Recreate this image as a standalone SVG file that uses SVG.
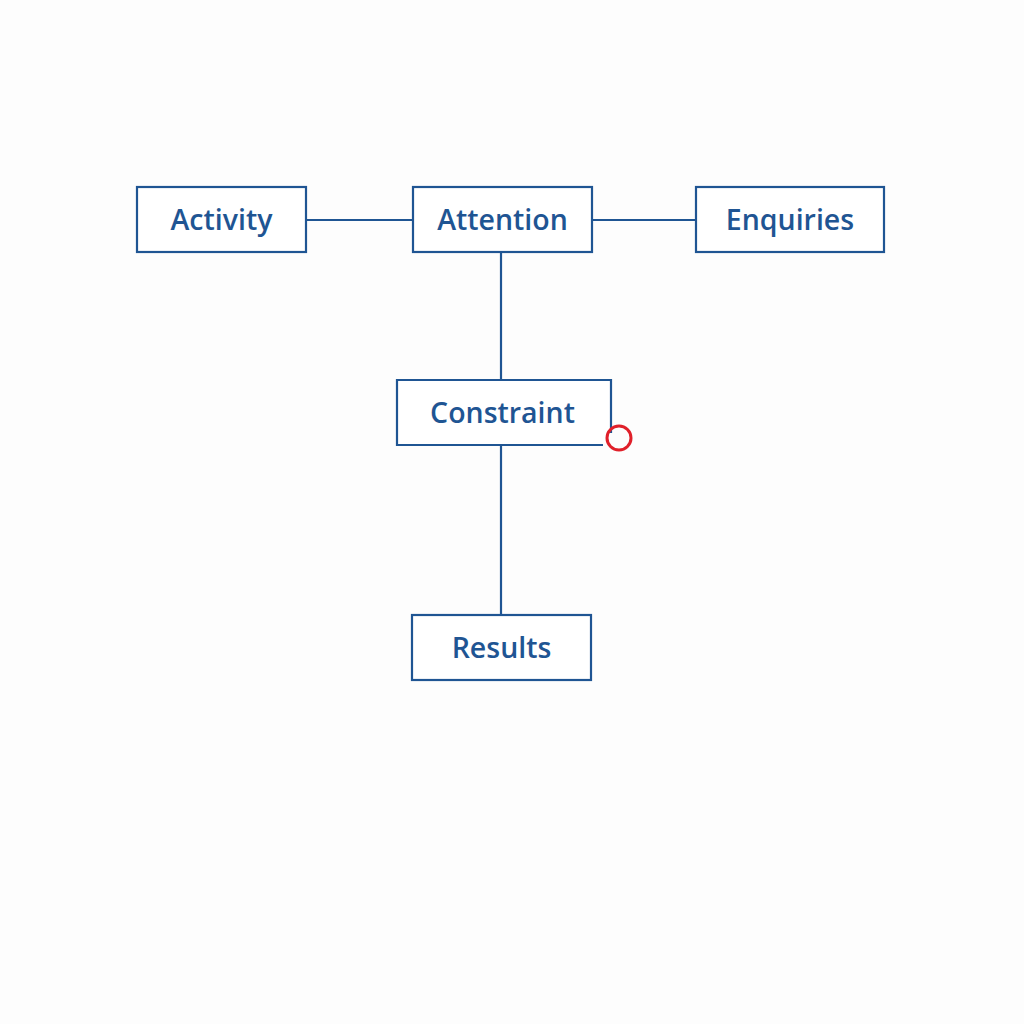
<svg xmlns="http://www.w3.org/2000/svg" width="1024" height="1024" viewBox="0 0 1024 1024">
<style>
.box{fill:#ffffff;stroke:#1f5593;stroke-width:2.2}
.lbl{font-family:"Open Sans","Noto Sans",sans-serif;font-weight:600;font-size:28.5px;fill:#1f5593;text-anchor:middle;dominant-baseline:central}
.conn{stroke:#1f5593;stroke-width:2.2;fill:none}
</style>
<rect width="1024" height="1024" fill="#fdfdfd"/>
<g id="connectors">
<line class="conn" x1="306" y1="220" x2="413" y2="220"/>
<line class="conn" x1="592" y1="220" x2="696" y2="220"/>
<line class="conn" x1="501" y1="252" x2="501" y2="380"/>
<line class="conn" x1="501" y1="445" x2="501" y2="615"/>
</g>
<g id="activity"><rect class="box" x="137" y="187" width="169" height="65"/><text class="lbl" x="221.5" y="218.5">Activity</text></g>
<g id="attention"><rect class="box" x="413" y="187" width="179" height="65"/><text class="lbl" x="502.5" y="218.5">Attention</text></g>
<g id="enquiries"><rect class="box" x="696" y="187" width="188" height="65"/><text class="lbl" x="790" y="218.5">Enquiries</text></g>
<g id="constraint"><path d="M603,445 H397 V380 H611 V433" fill="#ffffff" stroke="#1f5593" stroke-width="2.2"/><text class="lbl" x="502.5" y="411.5">Constraint</text><circle cx="619" cy="438" r="12" fill="none" stroke="#e0202a" stroke-width="3"/></g>
<g id="results"><rect class="box" x="412" y="615" width="179" height="65"/><text class="lbl" x="501.5" y="646.5">Results</text></g>
</svg>
